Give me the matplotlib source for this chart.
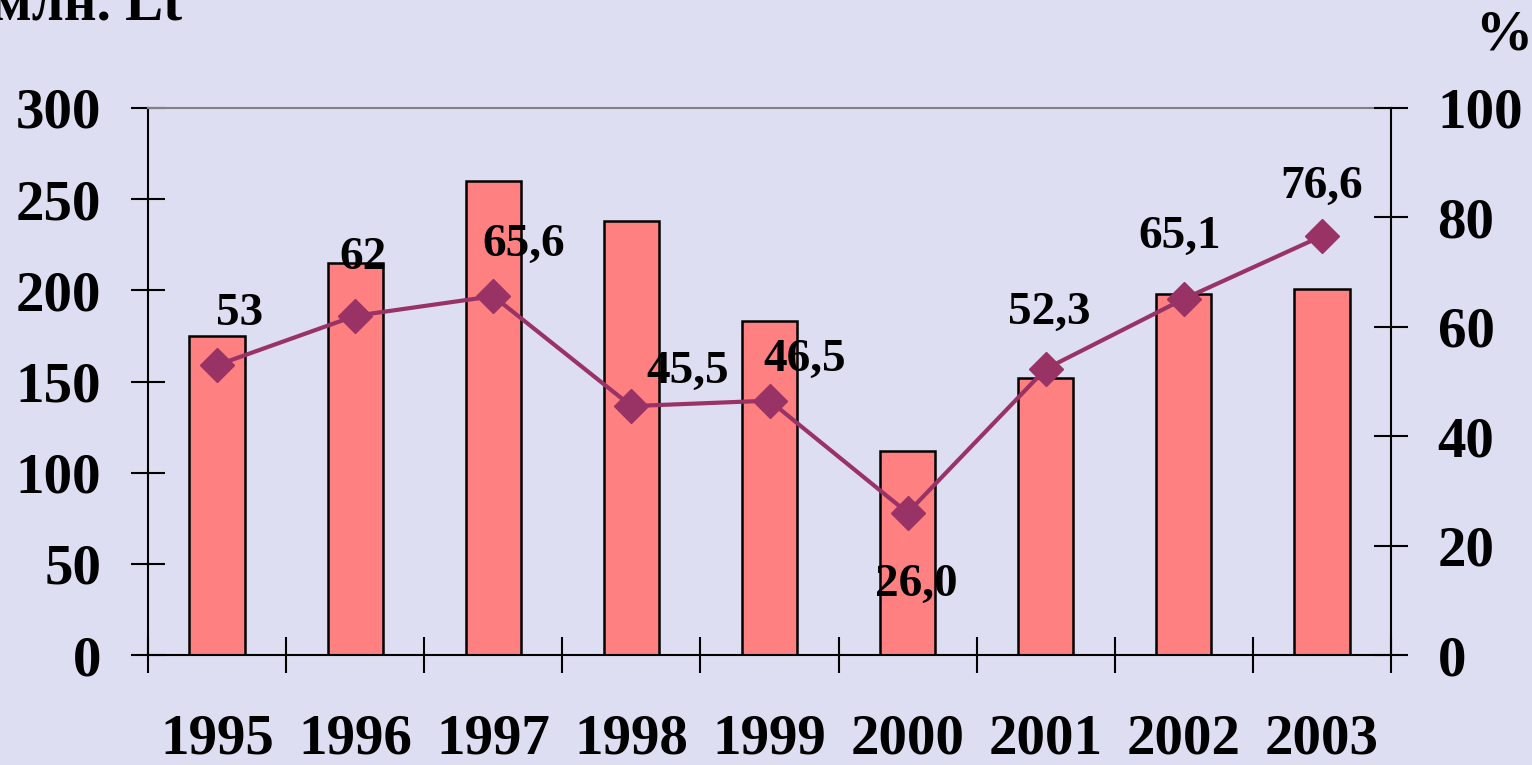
import matplotlib
matplotlib.use("Agg")
import matplotlib.pyplot as plt
import numpy as np

years = ["1995", "1996", "1997", "1998", "1999", "2000", "2001", "2002", "2003"]
amount_mln_lt = [175, 215, 260, 238, 183, 112, 152, 198, 201]
percent = [53, 62, 65.6, 45.5, 46.5, 26.0, 52.3, 65.1, 76.6]
percent_labels = ["53", "62", "65,6", "45,5", "46,5", "26,0", "52,3", "65,1", "76,6"]
left_ticks = [0, 50, 100, 150, 200, 250, 300]
right_ticks = [0, 20, 40, 60, 80, 100]

# label offsets in pixels (dx, dy) relative to markers
label_offsets = [(23, 51), (8, 58), (30, 51), (56, 34), (35, 41), (9, -72), (4, 56), (-4, 62), (0, 49)]

BG = "#DEDEF3"
BAR = "#FF8080"
LINE = "#993366"
FONT = "Liberation Serif"
TICK_FS = 41
LABEL_FS = 34

dpi = 100
fig = plt.figure(figsize=(15.32, 7.65), dpi=dpi, facecolor=BG)
W, H = 1532, 765
ax = fig.add_axes([148 / W, 1 - 655 / H, (1391 - 148) / W, (655 - 108) / H])
ax.set_facecolor(BG)

x = np.arange(len(years))
ax.bar(x, amount_mln_lt, width=0.4, color=BAR, edgecolor="black", linewidth=1.8, zorder=2)
ax.set_xlim(-0.5, len(years) - 0.5)
ax.set_ylim(0, 300)
ax.set_yticks(left_ticks)
ax.set_yticklabels([str(t) for t in left_ticks], fontfamily=FONT, fontweight="bold", fontsize=TICK_FS)
ax.set_xticks(np.arange(len(years) + 1) - 0.5)
ax.set_xticklabels([])
ax.set_xticks(x, minor=True)
ax.set_xticklabels(years, minor=True, fontfamily=FONT, fontweight="bold", fontsize=TICK_FS)
ax.tick_params(axis="x", which="major", direction="inout", length=26, width=1.5, colors="black")
ax.tick_params(axis="x", which="minor", length=0, pad=42)
ax.tick_params(axis="y", which="major", direction="inout", length=25, width=1.5, pad=21)

for s in ["left", "right", "bottom"]:
    ax.spines[s].set_linewidth(1.5)
    ax.spines[s].set_color("black")
ax.spines["top"].set_color("#808080")
ax.spines["top"].set_linewidth(1.5)

ax2 = ax.twinx()
ax2.set_ylim(0, 100)
ax2.set_yticks(right_ticks)
ax2.set_yticklabels([str(t) for t in right_ticks], fontfamily=FONT, fontweight="bold", fontsize=TICK_FS)
ax2.tick_params(axis="y", direction="inout", length=25, width=1.5, pad=21)
for s in ax2.spines.values():
    s.set_visible(False)
ax2.plot(x, percent, color=LINE, linewidth=3, marker="D", markersize=17, zorder=3)

for xi, yi, lab, (dx, dy) in zip(x, percent, percent_labels, label_offsets):
    ax2.annotate(lab, (xi, yi), xytext=(dx * 72 / dpi, dy * 72 / dpi), textcoords="offset points",
                 ha="center", va="center", fontfamily=FONT, fontweight="bold", fontsize=LABEL_FS)

fig.text(-7 / W, 1 - 5 / H, "млн. Lt", ha="left", va="center", fontfamily=FONT, fontweight="bold", fontsize=TICK_FS)
fig.text(1504 / W, 1 - 36 / H, "%", ha="center", va="center", fontfamily=FONT, fontweight="bold", fontsize=TICK_FS)

fig.savefig("out.png", dpi=dpi, facecolor=BG)
